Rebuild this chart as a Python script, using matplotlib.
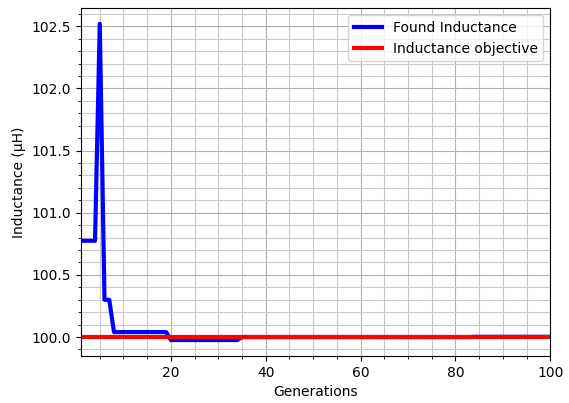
import matplotlib
matplotlib.use('Agg')
import matplotlib.pyplot as plt

# Generations 1..100 and the best inductance found at each one (uH)
generations = list(range(1, 101))
found = ([100.775] * 4 + [102.52] + [100.30] * 2 + [100.04] * 12
         + [99.976] * 15 + [100.0] * 49 + [100.002] * 17)
objective = [100.0] * len(generations)

plt.figure(figsize=(5.69, 4.03), dpi=100)
plt.plot(generations, found, color='blue', linewidth=3, label='Found Inductance')
plt.plot(generations, objective, color='red', linewidth=3, label='Inductance objective')
plt.xlim(1, 100)
plt.minorticks_on()
plt.grid(which='major', color='#b0b0b0', linewidth=0.8)
plt.grid(which='minor', color='#c8c8c8', linewidth=0.8)
plt.xlabel('Generations')
plt.ylabel('Inductance (μH)')
plt.legend(loc='upper right')
plt.subplots_adjust(left=0.142, right=0.967, top=0.98, bottom=0.117)
plt.savefig('out.png', dpi=100)
